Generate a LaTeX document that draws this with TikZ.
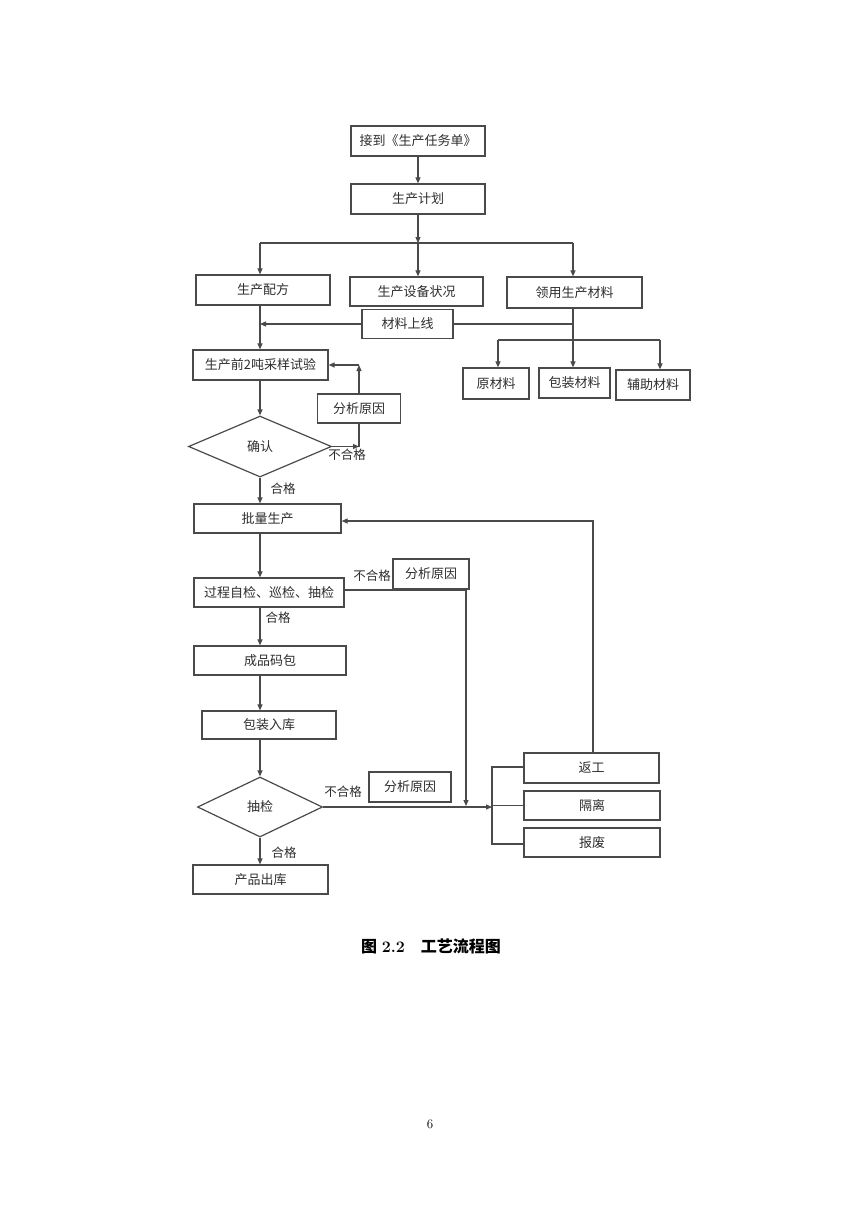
\documentclass[tikz,border=0pt]{standalone}
\usepackage{fontspec}
\newfontfamily\cjk{Noto Sans CJK SC}
\usetikzlibrary{arrows.meta,shapes.geometric}
\definecolor{lc}{HTML}{4A4A4A}
\definecolor{tc}{HTML}{2E2E2E}
\begin{document}
\begin{tikzpicture}[x=1pt,y=-1pt,
  box/.style={draw=lc,line width=1.2pt,fill=white,inner sep=0pt,text=tc,font=\cjk\fontsize{13}{15}\selectfont},
  dia/.style={draw=lc,line width=1.2pt,fill=white,inner sep=0pt,shape=diamond,text=tc,font=\cjk\fontsize{13}{15}\selectfont},
  lab/.style={inner sep=0pt,text=tc,font=\cjk\fontsize{12.5}{14}\selectfont},
  ln/.style={draw=lc,line width=1.1pt},
  arr/.style={ln,-{Triangle[length=6pt,width=5pt]}}]
\useasboundingbox[fill=white] (0,0) rectangle (860,1216);
% column coordinate
\coordinate (cx) at (260,0);
% nodes
\node[box,minimum width=134pt,minimum height=30pt] (n1) at (418,141) {接到《生产任务单》};
\node[box,minimum width=134pt,minimum height=30pt] (n2) at (418,199) {生产计划};
\node[box,minimum width=134pt,minimum height=30pt] (n3) at (263,290) {生产配方};
\node[box,minimum width=133pt,minimum height=29pt] (n4) at (416.5,291.5) {生产设备状况};
\node[box,minimum width=135pt,minimum height=31pt] (n5) at (574.5,292.5) {领用生产材料};
\node[box,minimum width=91pt,minimum height=29pt] (n6) at (407.5,324) {材料上线};
\node[box,minimum width=66pt,minimum height=31pt] (n7) at (496,383.5) {原材料};
\node[box,minimum width=71pt,minimum height=30pt] (n8) at (574.5,383) {包装材料};
\node[box,minimum width=74pt,minimum height=30pt] (n9) at (653,385) {辅助材料};
\node[box,minimum width=135pt,minimum height=30pt] (n10) at (260.5,365) {生产前2吨采样试验};
\node[box,minimum width=83pt,minimum height=29pt] (n11) at (359,408.5) {分析原因};
\node[dia,minimum width=143pt,minimum height=61pt,aspect=2.3] (d1) at (260,446.5) {确认};
\node[box,minimum width=147pt,minimum height=29pt] (n12) at (267.5,518.5) {批量生产};
\node[box,minimum width=150pt,minimum height=29pt] (n13) at (269,592.5) {过程自检、巡检、抽检};
\node[box,minimum width=76pt,minimum height=30pt] (n14) at (431,574) {分析原因};
\node[box,minimum width=152pt,minimum height=29pt] (n15) at (270,660.5) {成品码包};
\node[box,minimum width=134pt,minimum height=28pt] (n16) at (269,725) {包装入库};
\node[dia,minimum width=125pt,minimum height=60pt,aspect=2.1] (d2) at (260,807) {抽检};
\node[box,minimum width=82pt,minimum height=30pt] (n17) at (410,787) {分析原因};
\node[box,minimum width=135pt,minimum height=30pt] (n18) at (591.5,768) {返工};
\node[box,minimum width=136pt,minimum height=29pt] (n19) at (592,805.5) {隔离};
\node[box,minimum width=136pt,minimum height=29pt] (n20) at (592,842.5) {报废};
\node[box,minimum width=135pt,minimum height=29pt] (n21) at (260.5,879.5) {产品出库};
% labels
\node[lab] (l1) at (347,455) {不合格};
\node[lab] (l2) at (283,489) {合格};
\node[lab] (l3) at (372,576) {不合格};
\node[lab] (l4) at (278,618) {合格};
\node[lab] (l5) at (343,792) {不合格};
\node[lab] (l6) at (284,853) {合格};
% coordinates
\coordinate (j1) at (418,243);
\coordinate (jL) at (260,243);
\coordinate (jR) at (573,243);
\coordinate (m1) at (260,324);
\coordinate (m2) at (573,324);
\coordinate (m3) at (573,340);
\coordinate (mL) at (498,340);
\coordinate (mR) at (660,340);
\coordinate (r2) at (n11.north |- n10.east);
\coordinate (p1) at (466,590);
\coordinate (p2) at (466,806);
\coordinate (bt) at (492,767);
\coordinate (bb) at (492,844);
\coordinate (rx) at (593,0);
% connectors
\draw[arr] (n1) -- (n2);
\draw[arr] (n2.south) -- (j1);
\draw[ln] (jL) -- (jR);
\draw[arr] (jL) -- (jL |- n3.north);
\draw[arr] (j1) -- (j1 |- n4.north);
\draw[arr] (jR) -- (jR |- n5.north);
\draw[arr] (n3.south -| cx) -- (n10.north -| cx);
\draw[arr] (n6.west) -- (m1);
\draw[ln] (n6.east) -- (m2);
\draw[ln] (jR |- n5.south) -- (m3);
\draw[ln] (mL) -- (mR);
\draw[arr] (mL) -- (mL |- n7.north);
\draw[arr] (m3) -- (m3 |- n8.north);
\draw[arr] (mR) -- (mR |- n9.north);
\draw[arr] (n10.south -| cx) -- (d1.north);
\draw[arr] (d1.east) -- (n11.south |- d1.east);
\draw[ln] (n11.south |- d1.east) -- (n11.south);
\draw[arr] (n11.north) -- (r2);
\draw[arr] (r2) -- (n10.east);
\draw[arr] (d1.south) -- (n12.north -| cx);
\draw[arr] (n12.south -| cx) -- (n13.north -| cx);
\draw[arr] (n13.east |- p1) -- (p1) -- (p2);
\draw[arr] (n13.south -| cx) -- (n15.north -| cx);
\draw[arr] (n15.south -| cx) -- (n16.north -| cx);
\draw[arr] (n16.south -| cx) -- (d2.north);
\draw[arr] (d2.east) -- (d2.east -| bt);
\draw[ln] (n18.west |- bt) -- (bt) -- (bb) -- (n20.west |- bb);
\draw[ln] (n19.west) -- (n19.west -| bt);
\draw[arr] (n18.north -| rx) -- (rx |- 0,521) -- (n12.east |- 0,521);
\draw[arr] (d2.south) -- (n21.north -| cx);
% caption and page number
\node[inner sep=0pt,text=black,font=\fontsize{16}{18}\selectfont] (cap) at (431,946) {{\cjk\bfseries 图} {\bfseries 2.2}\quad{\cjk\bfseries 工艺流程图}};
\node[inner sep=0pt,text=black,font=\fontsize{13}{15}\selectfont] (pg) at (430,1124) {6};
\end{tikzpicture}
\end{document}
